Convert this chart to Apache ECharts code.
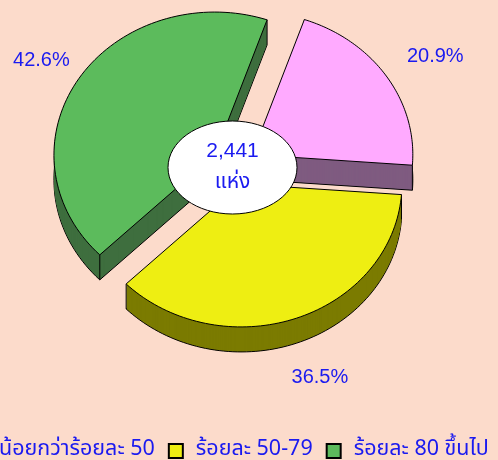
<!DOCTYPE html>
<html>
<head>
<meta charset="utf-8">
<script src="https://cdn.jsdelivr.net/npm/echarts@6/dist/echarts.min.js"></script>
<style>
html, body { margin: 0; padding: 0; background: #fcdbcb; }
#main { width: 498px; height: 460px; }
</style>
</head>
<body>
<div id="main"></div>
<script>
// ข้อมูลของแผนภูมิ
const categories = ['น้อยกว่าร้อยละ 50', 'ร้อยละ 50-79', 'ร้อยละ 80 ขึ้นไป'];
const percents = [20.9, 36.5, 42.6];
const centerText = ['2,441', 'แห่ง'];

const topColors = ['#ffaaff', '#eeee12', '#5cbb5c'];
const sideColors = ['#7f5b80', '#7b7b00', '#3e6e3e'];
const blue = '#1a1af0';
const thaiFont = '"Noto Sans Thai", Tahoma, Loma, Garuda, "Liberation Sans", "DejaVu Sans", sans-serif';

const startDeg = 19;     // มุมเริ่ม วัดจากด้านบนตามเข็มนาฬิกา
const explode = 0.138;   // ระยะดึงชิ้นออก (สัดส่วนของรัศมี)
const depth = 25;        // ความหนาของพาย (px)
const labelR = 1.32;

const total = percents.reduce((a, b) => a + b, 0);

function sliceAngles(i) {
    let before = 0;
    for (let k = 0; k < i; k++) before += percents[k];
    const a0 = startDeg + before / total * 360;
    return [a0, a0 + percents[i] / total * 360];
}

function makeRender(i) {
    return function (params, api) {
        const [a0, a1] = sliceAngles(i);
        const mid = (a0 + a1) / 2 * Math.PI / 180;
        const ox = explode * Math.sin(mid), oy = explode * Math.cos(mid);
        const pts = [api.coord([ox, oy])];
        const steps = 80;
        for (let s = 0; s <= steps; s++) {
            const a = (a0 + (a1 - a0) * s / steps) * Math.PI / 180;
            pts.push(api.coord([ox + Math.sin(a), oy + Math.cos(a)]));
        }
        const children = [];
        // ด้านข้าง (ซ้อนหลายชั้นให้ดูหนา)
        for (let d = depth; d >= 1; d--) {
            children.push({
                type: 'polygon',
                shape: { points: pts.map(p => [p[0], p[1] + d]) },
                style: d === depth
                    ? { fill: sideColors[i], stroke: '#000', lineWidth: 1 }
                    : { fill: sideColors[i] }
            });
        }
        [pts[0], pts[1], pts[pts.length - 1]].forEach(p => {
            children.push({
                type: 'line',
                shape: { x1: p[0], y1: p[1], x2: p[0], y2: p[1] + depth },
                style: { stroke: '#000', lineWidth: 1 }
            });
        });
        // ผิวด้านบน
        children.push({
            type: 'polygon',
            shape: { points: pts },
            style: { fill: topColors[i], stroke: '#000', lineWidth: 1 }
        });
        // ป้ายเปอร์เซ็นต์
        const lr = labelR + explode;
        const lp = api.coord([lr * Math.sin(mid), lr * Math.cos(mid)]);
        const down = Math.cos(mid) < 0 ? depth * 0.4 : 0;
        children.push({
            type: 'text',
            x: lp[0] + 6, y: lp[1] + 6 + down,
            style: {
                text: percents[i].toFixed(1) + '%',
                fill: blue,
                font: '20px "Liberation Sans", Arial, sans-serif',
                align: 'center',
                verticalAlign: 'middle'
            }
        });
        return { type: 'group', children: children };
    };
}

var myChart = echarts.init(document.getElementById('main'));

var option = {
    backgroundColor: '#fcdbcb',
    animation: false,
    grid: { left: 72.7, width: 321.6, top: 22.6, height: 285.8 },
    xAxis: { type: 'value', min: -1, max: 1, show: false },
    yAxis: { type: 'value', min: -1, max: 1, show: false },
    legend: {
        left: -34,
        top: 435,
        width: 900,
        orient: 'horizontal',
        icon: 'rect',
        itemWidth: 14,
        itemHeight: 14,
        itemGap: 13,
        data: categories,
        textStyle: { color: blue, fontSize: 21.5, fontFamily: thaiFont, padding: [0, 0, 0, 8] }
    },
    graphic: [
        {
            type: 'ellipse',
            z: 100,
            shape: { cx: 232.5, cy: 167.5, rx: 64.5, ry: 46.5 },
            style: { fill: '#fff', stroke: '#000', lineWidth: 1 }
        },
        {
            type: 'text',
            z: 101,
            x: 232.5, y: 151,
            style: { text: centerText[0], fill: blue, font: '21px "Liberation Sans", Arial, sans-serif', align: 'center', verticalAlign: 'middle' }
        },
        {
            type: 'text',
            z: 101,
            x: 232.5, y: 184,
            style: { text: centerText[1], fill: blue, font: '21px ' + thaiFont, align: 'center', verticalAlign: 'middle' }
        }
    ],
    series: categories.map((name, i) => ({
        type: 'custom',
        name: name,
        clip: false,
        itemStyle: { color: topColors[i], borderColor: '#000', borderWidth: 1 },
        renderItem: makeRender(i),
        data: [[0, 0, percents[i]]]
    }))
};

myChart.setOption(option);
</script>
</body>
</html>
